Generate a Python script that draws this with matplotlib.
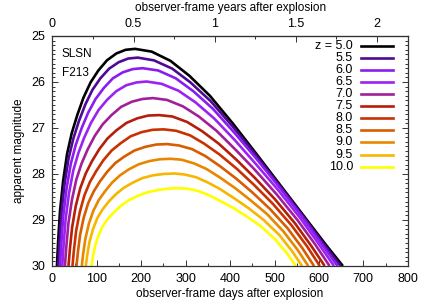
import matplotlib.pyplot as plt
from matplotlib.lines import Line2D
from matplotlib.ticker import MultipleLocator

plt.rcParams['font.family'] = ['Liberation Sans', 'DejaVu Sans']
plt.rcParams['font.size'] = 8.5

# values (observer-frame days, apparent magnitude)
redshifts = ['5.0', '5.5', '6.0', '6.5', '7.0', '7.5', '8.0', '8.5', '9.0', '9.5', '10.0']
colors = ['#000000', '#4e0a94', '#8a1cf0', '#9b22f2', '#a0209a', '#b41e0a',
          '#c83200', '#d85c00', '#e88600', '#f7b600', '#ffff00']

days_z50 = [10, 12.6, 17.0, 24.1, 32.9, 43.4, 55.8, 69.8, 85.7, 103.3, 122.6, 143.8, 164.9, 186,
            223.4, 265.6, 307.7, 354.5, 406.0, 457.4, 513.6, 569.8, 616.6, 654]
mag_z50 = [30.0, 29.48, 28.80, 28.14, 27.56, 27.11, 26.72, 26.34, 26.01, 25.75, 25.53, 25.38, 25.30, 25.28,
           25.34, 25.54, 25.86, 26.30, 26.90, 27.54, 28.25, 28.96, 29.55, 30.0]

days_z55 = [13, 15.7, 20.2, 27.3, 36.3, 47.0, 59.5, 73.9, 90.0, 107.9, 127.6, 149.0, 170.5, 192,
            228.6, 269.7, 310.8, 356.5, 406.8, 457.1, 511.9, 566.7, 612.4, 649]
mag_z55 = [30.0, 29.50, 28.85, 28.21, 27.66, 27.23, 26.85, 26.49, 26.17, 25.92, 25.71, 25.57, 25.49, 25.47,
           25.53, 25.71, 26.01, 26.42, 26.98, 27.58, 28.26, 28.95, 29.54, 30.0]

days_z60 = [17, 19.8, 24.4, 31.9, 41.2, 52.3, 65.4, 80.2, 97.0, 115.6, 136.0, 158.4, 180.7, 203,
            238.1, 277.6, 317.1, 361.0, 409.3, 457.6, 510.3, 563.0, 606.9, 642]
mag_z60 = [30.0, 29.53, 28.90, 28.30, 27.78, 27.37, 27.01, 26.67, 26.37, 26.13, 25.92, 25.79, 25.72, 25.70,
           25.75, 25.92, 26.20, 26.58, 27.10, 27.65, 28.28, 28.94, 29.53, 30.0]

days_z65 = [22, 24.9, 29.6, 37.2, 46.7, 58.1, 71.4, 86.6, 103.7, 122.7, 143.6, 166.4, 189.2, 212,
            245.8, 283.7, 321.7, 363.9, 410.3, 456.8, 507.4, 558.0, 600.2, 634]
mag_z65 = [30.0, 29.56, 28.98, 28.42, 27.93, 27.55, 27.21, 26.89, 26.61, 26.39, 26.20, 26.07, 26.01, 25.99,
           26.04, 26.19, 26.44, 26.79, 27.26, 27.77, 28.34, 28.96, 29.53, 30.0]

days_z70 = [28, 31.0, 35.9, 43.8, 53.7, 65.6, 79.5, 95.3, 113.1, 132.9, 154.7, 178.5, 202.2, 226,
            257.8, 293.7, 329.5, 369.3, 413.1, 456.8, 504.6, 552.4, 592.2, 624]
mag_z70 = [30.0, 29.60, 29.07, 28.56, 28.12, 27.77, 27.46, 27.17, 26.92, 26.72, 26.54, 26.43, 26.37, 26.35,
           26.39, 26.53, 26.75, 27.06, 27.48, 27.92, 28.44, 29.01, 29.54, 30.0]

days_z75 = [36, 39.1, 44.2, 52.3, 62.5, 74.8, 89.0, 105.4, 123.7, 144.1, 166.6, 191.0, 215.5, 240,
            269.8, 303.4, 337.0, 374.3, 415.3, 456.3, 501.1, 545.9, 583.2, 613]
mag_z75 = [30.0, 29.64, 29.16, 28.70, 28.31, 27.99, 27.72, 27.46, 27.23, 27.05, 26.89, 26.79, 26.73, 26.72,
           26.75, 26.87, 27.07, 27.34, 27.70, 28.09, 28.55, 29.07, 29.57, 30.0]

days_z80 = [45, 48.1, 53.2, 61.4, 71.7, 84.0, 98.3, 114.7, 133.2, 153.7, 176.2, 200.8, 225.4, 250,
            278.2, 309.8, 341.5, 376.7, 415.4, 454.2, 496.4, 538.6, 573.8, 602]
mag_z80 = [30.0, 29.67, 29.24, 28.83, 28.47, 28.18, 27.94, 27.70, 27.49, 27.33, 27.18, 27.09, 27.04, 27.03,
           27.06, 27.16, 27.34, 27.58, 27.89, 28.24, 28.65, 29.12, 29.58, 30.0]

days_z85 = [54, 57.1, 62.2, 70.3, 80.5, 92.8, 107.0, 123.4, 141.7, 162.1, 184.6, 209.0, 233.5, 258,
            284.5, 314.3, 344.1, 377.2, 413.6, 450.0, 489.7, 529.4, 562.5, 589]
mag_z85 = [30.0, 29.71, 29.32, 28.95, 28.63, 28.38, 28.16, 27.95, 27.76, 27.62, 27.49, 27.41, 27.36, 27.35,
           27.38, 27.46, 27.61, 27.83, 28.10, 28.40, 28.76, 29.18, 29.61, 30.0]

days_z90 = [66, 69, 74, 82, 92, 104, 118, 134, 152, 172, 194, 218, 242, 266,
            290.8, 318.7, 346.6, 377.6, 411.7, 445.8, 483.0, 520.2, 551.2, 576]
mag_z90 = [30.0, 29.74, 29.41, 29.08, 28.80, 28.57, 28.38, 28.19, 28.03, 27.90, 27.79, 27.72, 27.68, 27.67,
           27.69, 27.77, 27.89, 28.08, 28.31, 28.57, 28.87, 29.25, 29.64, 30.0]

days_z95 = [75, 78.0, 83.0, 90.9, 100.9, 112.8, 126.7, 142.7, 160.6, 180.5, 202.4, 226.2, 250.1, 274,
            297.0, 323.0, 348.9, 377.7, 409.4, 441.0, 475.6, 510.2, 539.0, 562]
mag_z95 = [30.0, 29.78, 29.49, 29.21, 28.96, 28.77, 28.60, 28.44, 28.30, 28.19, 28.09, 28.03, 28.00, 27.99,
           28.01, 28.07, 28.18, 28.33, 28.53, 28.74, 29.00, 29.32, 29.67, 30.0]

days_z100 = [88, 90.9, 95.8, 103.6, 113.4, 125.1, 138.7, 154.3, 171.9, 191.4, 212.8, 236.2, 259.6, 283,
             304.2, 328.1, 351.9, 378.4, 407.6, 436.7, 468.5, 500.3, 526.8, 548]
mag_z100 = [30.0, 29.81, 29.57, 29.33, 29.13, 28.97, 28.83, 28.69, 28.57, 28.48, 28.40, 28.35, 28.32, 28.31,
            28.32, 28.37, 28.46, 28.59, 28.74, 28.92, 29.13, 29.41, 29.71, 30.0]

curves = [(days_z50, mag_z50), (days_z55, mag_z55), (days_z60, mag_z60), (days_z65, mag_z65),
          (days_z70, mag_z70), (days_z75, mag_z75), (days_z80, mag_z80), (days_z85, mag_z85),
          (days_z90, mag_z90), (days_z95, mag_z95), (days_z100, mag_z100)]

fig = plt.figure(figsize=(4.36, 3.05), dpi=100)
ax = fig.add_axes([0.1204, 0.128, 0.8147, 0.754])

for (d, m), c in zip(curves, colors):
    ax.plot(d, m, color=c, lw=1.9, solid_capstyle='butt', solid_joinstyle='round')

ax.set_xlim(0, 800)
ax.set_ylim(30, 25)
ax.xaxis.set_major_locator(MultipleLocator(100))
ax.xaxis.set_minor_locator(MultipleLocator(50))
ax.yaxis.set_major_locator(MultipleLocator(1))
ax.yaxis.set_minor_locator(MultipleLocator(0.1))
ax.tick_params(which='both', direction='in', color='#333333', width=0.7,
               top=False, right=True, labelsize=9)
ax.tick_params(which='major', length=4.5, pad=5)
ax.tick_params(which='minor', length=2.2)
for s in ax.spines.values():
    s.set_color('#333333')
    s.set_linewidth(0.9)

ax.set_xlabel('observer-frame days after explosion', labelpad=2)
ax.set_ylabel('apparent magnitude', labelpad=5)

top = ax.secondary_xaxis('top', functions=(lambda d: d / 365.25, lambda y: y * 365.25))
top.set_xticks([0, 0.5, 1, 1.5, 2], ['0', '0.5', '1', '1.5', '2'])
top.xaxis.set_minor_locator(MultipleLocator(0.25))
top.tick_params(which='both', direction='in', color='#333333', width=0.7, labelsize=9)
top.tick_params(which='major', length=4.5, pad=4)
top.tick_params(which='minor', length=2.2)
top.set_xlabel('observer-frame years after explosion', labelpad=5)

ax.text(0.026, 0.92, 'SLSN', transform=ax.transAxes, va='center', ha='left')
ax.text(0.026, 0.84, 'F213', transform=ax.transAxes, va='center', ha='left')

# gnuplot-style key: right-aligned labels, sample line on the right
for i, (z, c) in enumerate(zip(redshifts, colors)):
    y = 0.958 - i * 0.0526
    label = 'z = ' + z if i == 0 else z
    ax.text(0.846, y, label, transform=ax.transAxes, ha='right', va='center', fontsize=9)
    ax.add_line(Line2D([0.868, 0.959], [y, y], transform=ax.transAxes, color=c, lw=1.9))

fig.savefig('out.png', dpi=100)
